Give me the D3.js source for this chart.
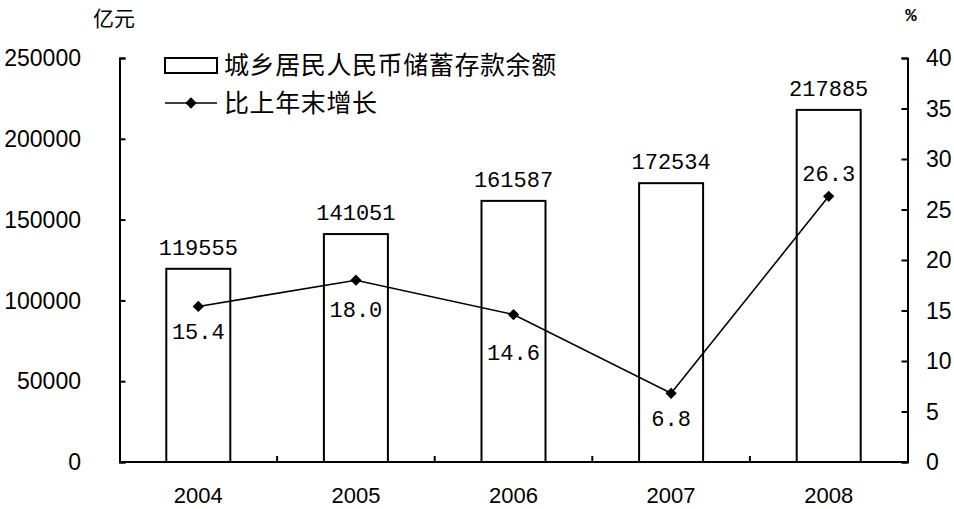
<!DOCTYPE html>
<html><head><meta charset="utf-8">
<script src="https://cdn.jsdelivr.net/npm/d3@7"></script>
<style>body{margin:0;background:#fff}svg{display:block}</style>
</head><body>
<script>
const years = ["2004","2005","2006","2007","2008"];
const deposits = [119555, 141051, 161587, 172534, 217885];
const growth = [15.4, 18.0, 14.6, 6.8, 26.3];
const growthLabels = ["15.4","18.0","14.6","6.8","26.3"];
const leftTicks = [0, 50000, 100000, 150000, 200000, 250000];
const rightTicks = [0, 5, 10, 15, 20, 25, 30, 35, 40];
const labelDy = [25, 29, 38, 25, -23];

const W = 954, H = 509;
const svg = d3.select("body").append("svg").attr("width", W).attr("height", H);
const L = 119.5, R = 907.5, T = 58, B = 462;
const x = d3.scaleBand().domain(years).range([L, R]).padding(0);
const yL = d3.scaleLinear().domain([0, 250000]).range([B, T]);
const yR = d3.scaleLinear().domain([0, 40]).range([B, T]);
const sans = "'Liberation Sans', Arial, sans-serif";
const mono = "'Liberation Mono', 'Courier New', monospace";
const cjk = "'Noto Sans CJK SC', sans-serif";

// bars
const bw = 64;
svg.append("g").selectAll("rect").data(years).join("rect")
  .attr("x", (d) => x(d) + x.bandwidth()/2 - bw/2)
  .attr("y", (d,i) => yL(deposits[i]))
  .attr("width", bw)
  .attr("height", (d,i) => B - yL(deposits[i]))
  .attr("fill", "#fff").attr("stroke", "#000").attr("stroke-width", 2);

// bar labels
svg.append("g").selectAll("text").data(years).join("text")
  .attr("x", (d) => x(d) + x.bandwidth()/2)
  .attr("y", (d,i) => yL(deposits[i]) - 14)
  .attr("text-anchor", "middle")
  .attr("font-family", mono).attr("font-size", 22).attr("fill", "#000")
  .text((d,i) => deposits[i]);

// axes
const gl = svg.append("g").attr("transform", `translate(${L},0)`)
  .call(d3.axisRight(yL).tickValues(leftTicks).tickSize(6).tickFormat(""));
const gr = svg.append("g").attr("transform", `translate(${R},0)`)
  .call(d3.axisLeft(yR).tickValues(rightTicks).tickSize(6).tickFormat(""));
[gl, gr].forEach(g => {
  g.select(".domain").attr("stroke", "#000").attr("stroke-width", 2);
  g.selectAll(".tick line").attr("stroke", "#000").attr("stroke-width", 2);
});
// bottom axis
svg.append("line").attr("x1", L).attr("x2", R).attr("y1", B).attr("y2", B)
  .attr("stroke", "#000").attr("stroke-width", 2);
svg.append("g").selectAll("line").data(years.slice(1)).join("line")
  .attr("x1", d => x(d)).attr("x2", d => x(d)).attr("y1", B).attr("y2", B - 6)
  .attr("stroke", "#000").attr("stroke-width", 2);

// tick labels
svg.append("g").selectAll("text").data(leftTicks).join("text")
  .attr("x", 81).attr("y", d => yL(d)).attr("dy", "0.36em")
  .attr("text-anchor", "end").attr("font-family", sans).attr("font-size", 23)
  .text(d => d);
svg.append("g").selectAll("text").data(rightTicks).join("text")
  .attr("x", 926).attr("y", d => yR(d)).attr("dy", "0.36em")
  .attr("text-anchor", "start").attr("font-family", sans).attr("font-size", 23)
  .text(d => d);
svg.append("g").selectAll("text").data(years).join("text")
  .attr("x", d => x(d) + x.bandwidth()/2).attr("y", 503)
  .attr("text-anchor", "middle").attr("font-family", sans).attr("font-size", 22)
  .text(d => d);

// unit titles
svg.append("text").attr("x", 114).attr("y", 18).attr("dy", "0.36em")
  .attr("text-anchor", "middle").attr("font-family", cjk).attr("font-size", 21).text("亿元");
svg.append("text").attr("x", 911).attr("y", 14).attr("dy", "0.36em")
  .attr("text-anchor", "middle").attr("font-family", mono).attr("font-weight", "bold").attr("font-size", 19).text("%");

// line
const line = d3.line().x((d,i) => x(years[i]) + x.bandwidth()/2).y(d => yR(d));
svg.append("path").datum(growth).attr("d", line)
  .attr("fill", "none").attr("stroke", "#000").attr("stroke-width", 1.6);
const diamond = d3.symbol(d3.symbolSquare, 64);
svg.append("g").selectAll("path").data(growth).join("path")
  .attr("d", diamond())
  .attr("transform", (d,i) => `translate(${x(years[i]) + x.bandwidth()/2},${yR(d)}) rotate(45)`)
  .attr("fill", "#000");
svg.append("g").selectAll("text").data(growth).join("text")
  .attr("x", (d,i) => x(years[i]) + x.bandwidth()/2)
  .attr("y", (d,i) => yR(d) + labelDy[i]).attr("dy", "0.36em")
  .attr("text-anchor", "middle").attr("font-family", mono).attr("font-size", 22)
  .text((d,i) => growthLabels[i]);

// legend
const lg = svg.append("g");
lg.append("rect").attr("x", 165).attr("y", 58).attr("width", 52).attr("height", 15)
  .attr("fill", "#fff").attr("stroke", "#000").attr("stroke-width", 2);
lg.append("text").attr("x", 224).attr("y", 65).attr("dy", "0.36em")
  .attr("font-family", cjk).attr("font-size", 25).attr("letter-spacing", 0.6)
  .text("城乡居民人民币储蓄存款余额");
lg.append("line").attr("x1", 165).attr("x2", 217).attr("y1", 103).attr("y2", 103)
  .attr("stroke", "#000").attr("stroke-width", 1.6);
lg.append("path").attr("d", diamond()).attr("transform", "translate(191,103) rotate(45)").attr("fill", "#000");
lg.append("text").attr("x", 224).attr("y", 103).attr("dy", "0.36em")
  .attr("font-family", cjk).attr("font-size", 25).attr("letter-spacing", 0.6)
  .text("比上年末增长");
</script>
</body></html>
